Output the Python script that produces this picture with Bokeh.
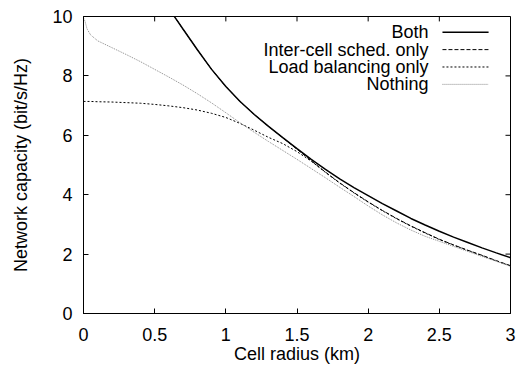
from bokeh.plotting import figure
from bokeh.models import Range1d, FixedTicker, Label, Arrow
from bokeh.embed import file_html
from bokeh.resources import INLINE

# ---- data ----
radius_both = [0.60, 0.65, 0.70, 0.80, 0.90, 1.00, 1.10, 1.20, 1.30, 1.40, 1.50,
               1.60, 1.70, 1.80, 1.90, 2.00, 2.10, 2.20, 2.30, 2.40, 2.50,
               2.60, 2.70, 2.80, 2.90, 3.00]
cap_both = [10.25, 9.92, 9.57, 8.88, 8.22, 7.64, 7.14, 6.70, 6.30, 5.92, 5.55,
            5.19, 4.85, 4.53, 4.24, 3.97, 3.70, 3.45, 3.20, 2.98, 2.77,
            2.57, 2.39, 2.21, 2.04, 1.88]
cap_intercell = [10.25, 9.92, 9.57, 8.88, 8.22, 7.64, 7.14, 6.70, 6.30, 5.92, 5.53,
                 5.14, 4.76, 4.40, 4.07, 3.76, 3.47, 3.20, 2.95, 2.72, 2.50,
                 2.31, 2.13, 1.96, 1.78, 1.61]

radius = [0.00, 0.01, 0.025, 0.05, 0.10, 0.20, 0.30, 0.40, 0.50, 0.60, 0.70, 0.80,
          0.90, 1.00, 1.10, 1.20, 1.30, 1.40, 1.50, 1.60, 1.70, 1.80, 1.90,
          2.00, 2.10, 2.20, 2.30, 2.40, 2.50, 2.60, 2.70, 2.80, 2.90, 3.00]
cap_lb = [7.14, 7.14, 7.14, 7.14, 7.13, 7.12, 7.10, 7.08, 7.04, 6.99, 6.93, 6.85,
          6.74, 6.60, 6.40, 6.17, 5.93, 5.72, 5.45, 5.13, 4.75, 4.39, 4.06,
          3.75, 3.46, 3.19, 2.94, 2.71, 2.49, 2.30, 2.12, 1.95, 1.77, 1.60]
cap_nothing = [9.95, 9.85, 9.58, 9.38, 9.18, 8.95, 8.72, 8.48, 8.22, 7.96, 7.69, 7.40,
               7.09, 6.76, 6.42, 6.10, 5.79, 5.49, 5.19, 4.88, 4.57, 4.25, 3.94,
               3.62, 3.32, 3.05, 2.81, 2.60, 2.43, 2.26, 2.09, 1.92, 1.76, 1.59]

x_ticks = [0, 0.5, 1, 1.5, 2, 2.5, 3]
x_tick_labels = ["0", "0.5", "1", "1.5", "2", "2.5", "3"]
y_ticks = [0, 2, 4, 6, 8, 10]
y_tick_labels = ["0", "2", "4", "6", "8", "10"]
series_names = ["Both", "Inter-cell sched. only", "Load balancing only", "Nothing"]

FONT = "Liberation Sans"
FS = "18px"
X0, X1, Y0, Y1 = 0, 3, 0, 10

p = figure(width=521, height=366, output_backend="svg", toolbar_location=None,
           x_range=Range1d(X0, X1), y_range=Range1d(Y0, Y1),
           min_border_left=83, min_border_right=11, min_border_top=16, min_border_bottom=48)
p.xgrid.visible = False
p.ygrid.visible = False
p.outline_line_color = "black"
p.outline_line_width = 1
p.background_fill_color = "white"
p.border_fill_color = "white"

def style_axis(ax, ticks, labels):
    ax.ticker = FixedTicker(ticks=ticks)
    ax.major_label_overrides = {t: l for t, l in zip(ticks, labels)}
    ax.major_tick_in = 5
    ax.major_tick_out = 0
    ax.minor_tick_line_color = None
    ax.axis_line_color = "black"
    ax.major_tick_line_color = "black"
    ax.major_label_text_font = FONT
    ax.major_label_text_font_size = FS
    ax.major_label_text_color = "black"
    ax.axis_label_text_font = FONT
    ax.axis_label_text_font_style = "normal"
    ax.axis_label_text_font_size = FS
    ax.axis_label_text_color = "black"

style_axis(p.xaxis[0], x_ticks, x_tick_labels)
style_axis(p.yaxis[0], y_ticks, y_tick_labels)
p.xaxis[0].axis_label = "Cell radius (km)"
p.yaxis[0].axis_label = "Network capacity (bit/s/Hz)"
p.xaxis[0].major_label_standoff = 14
p.yaxis[0].major_label_standoff = 11
p.xaxis[0].axis_label_standoff = 0
p.yaxis[0].axis_label_standoff = 18

# mirrored inward ticks on top and right edges (gnuplot "mirror"), drawn at the tick values
tick_dy = 5 / 30.2   # ~5 px in y data units
tick_dx = 5 / 142.3  # ~5 px in x data units
p.segment(x0=x_ticks, y0=[Y1] * len(x_ticks), x1=x_ticks, y1=[Y1 - tick_dy] * len(x_ticks),
          line_color="black", line_width=1)
p.segment(x0=[X1] * len(y_ticks), y0=y_ticks, x1=[X1 - tick_dx] * len(y_ticks), y1=y_ticks,
          line_color="black", line_width=1)

styles = [
    dict(line_color="black", line_width=1.5, line_dash="solid"),
    dict(line_color="black", line_width=1.0, line_dash="4 2"),
    dict(line_color="black", line_width=1.0, line_dash="2 2"),
    dict(line_color="#8a8a8a", line_width=1.0, line_dash="1 1"),
]
series = [(radius_both, cap_both), (radius_both, cap_intercell),
          (radius, cap_lb), (radius, cap_nothing)]
for (xs, ys), st in zip(series, styles):
    p.line(xs, ys, **st)

# gnuplot-style key: text right-aligned, sample line to its right (layout positions)
key_text_x = 2.424
key_line_x0, key_line_x1 = 2.522, 2.846
key_y0, key_dy = 9.47, 0.585
for i, (name, st) in enumerate(zip(series_names, styles)):
    yk = key_y0 - i * key_dy
    p.add_layout(Label(x=key_text_x, y=yk, text=name, text_align="right",
                       text_baseline="middle", text_font=FONT, text_font_size=FS,
                       text_color="black"))
    p.add_layout(Arrow(end=None, x_start=key_line_x0, y_start=yk,
                       x_end=key_line_x1, y_end=yk, **st))

open("out.html", "w").write(file_html(p, INLINE))
